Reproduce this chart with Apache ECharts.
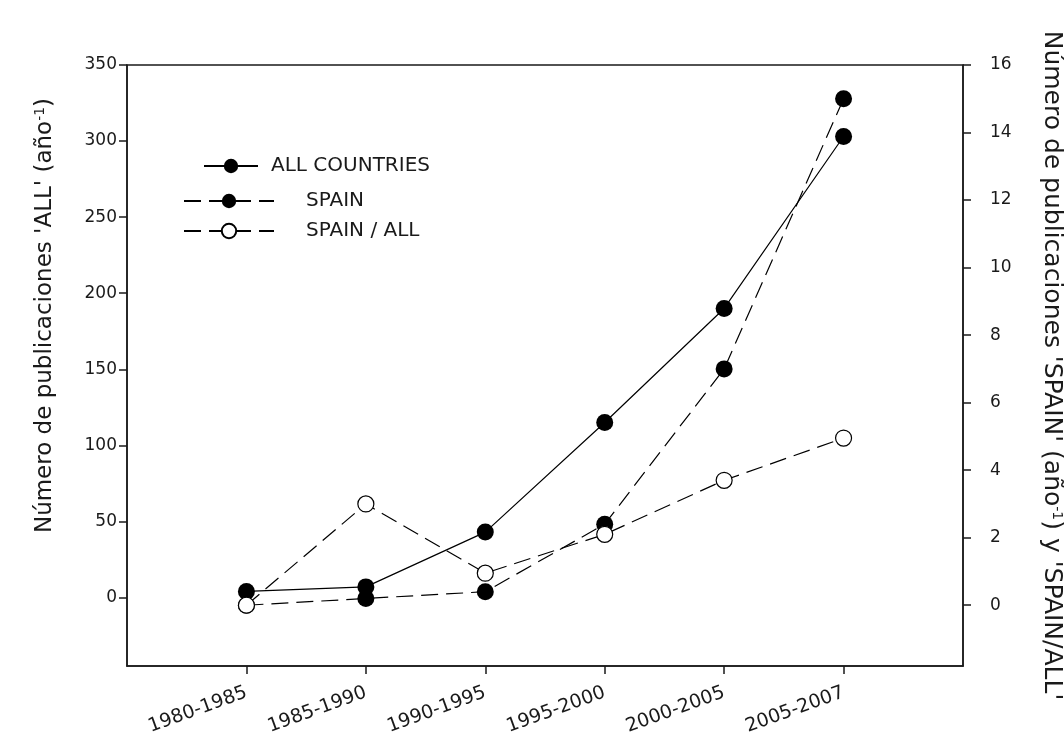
<!DOCTYPE html>
<html>
<head>
<meta charset="utf-8">
<script src="https://cdn.jsdelivr.net/npm/echarts@6/dist/echarts.min.js"></script>
<style>
  html, body { margin: 0; padding: 0; background: #fff; }
  #chart { width: 1064px; height: 735px; }
</style>
</head>
<body>
<div id="chart"></div>
<script>
// categories and values
var categories = ['1980-1985', '1985-1990', '1990-1995', '1995-2000', '2000-2005', '2005-2007'];
var allCountries = [4, 7, 43, 115, 190, 303];
var spain = [0, 0.2, 0.4, 2.4, 7, 15];
var spainRatio = [0, 3.0, 0.95, 2.1, 3.7, 4.95];
var leftTicks = [0, 50, 100, 150, 200, 250, 300, 350];
var rightTicks = [0, 2, 4, 6, 8, 10, 12, 14, 16];

// empty slot at each end so the points sit one step in from the frame
function pad(arr) { return [null].concat(arr, [null]); }
var xData = [''].concat(categories, ['']);

var font = 'DejaVu Sans';
var ink = '#1a1a1a';

var mychart = echarts.init(document.getElementById('chart'));

function legendItem(name, left, top, width, gap) {
    return {
        orient: 'vertical',
        left: left,
        top: top,
        itemWidth: width,
        itemHeight: 18,
        selectedMode: false,
        data: [name],
        textStyle: { fontFamily: font, fontSize: 20, color: ink, padding: [0, 0, 0, gap] }
    };
}

var supStyle = { fontFamily: font, fontSize: 14, color: ink, verticalAlign: 'top', padding: [0, 0, 10, 0] };

var option = {
    animation: false,
    backgroundColor: '#fff',
    grid: {
        left: 127, right: 101, top: 65, bottom: 69,
        containLabel: false,
        outerBoundsMode: 'none',
        show: true, borderColor: ink, borderWidth: 1.5, backgroundColor: 'transparent'
    },
    legend: [
        legendItem('ALL COUNTRIES', 198, 151, 54, 8),
        legendItem('SPAIN', 178, 186, 90, 27),
        legendItem('SPAIN / ALL', 178, 216, 90, 27)
    ],
    xAxis: {
        type: 'category',
        data: xData,
        boundaryGap: false,
        axisLine: { onZero: false, lineStyle: { color: ink, width: 1.5 } },
        axisTick: {
            length: 8,
            lineStyle: { color: ink, width: 1.5 },
            interval: function (i) { return i > 0 && i < xData.length - 1; }
        },
        axisLabel: {
            interval: 0,
            rotate: 20,
            margin: 26,
            fontFamily: font,
            fontSize: 19,
            color: ink
        },
        splitLine: { show: false }
    },
    yAxis: [
        {
            type: 'value',
            position: 'left',
            min: -45,
            max: 350,
            name: "Número de publicaciones 'ALL' (año{sup|-1})",
            nameLocation: 'middle',
            nameGap: 70,
            nameTextStyle: {
                fontFamily: font,
                fontSize: 23,
                color: ink,
                padding: [0, 0, 0, 100],
                rich: { sup: supStyle }
            },
            axisLine: { show: true, lineStyle: { color: ink, width: 1.5 } },
            axisTick: { show: true, length: 8, customValues: leftTicks, lineStyle: { color: ink, width: 1.5 } },
            axisLabel: { customValues: leftTicks, margin: 10, fontFamily: font, fontSize: 17, color: ink },
            splitLine: { show: false }
        },
        {
            type: 'value',
            position: 'right',
            min: -1.8,
            max: 16,
            name: "Número de publicaciones 'SPAIN' (año{sup|-1}) y 'SPAIN/ALL'",
            nameLocation: 'middle',
            nameGap: 76,
            nameRotate: -90,
            nameTextStyle: {
                fontFamily: font,
                fontSize: 25,
                color: ink,
                rich: { sup: supStyle }
            },
            axisLine: { show: true, lineStyle: { color: ink, width: 1.5 } },
            axisTick: { show: true, length: 8, customValues: rightTicks, lineStyle: { color: ink, width: 1.5 } },
            axisLabel: { customValues: rightTicks, margin: 27, fontFamily: font, fontSize: 17, color: ink },
            splitLine: { show: false }
        }
    ],
    series: [
        {
            name: 'ALL COUNTRIES',
            type: 'line',
            yAxisIndex: 0,
            data: pad(allCountries),
            symbol: 'circle',
            symbolSize: 17,
            itemStyle: { color: '#000', borderColor: '#000', borderWidth: 0 },
            lineStyle: { color: '#000', width: 1.2, type: 'solid' },
            z: 3
        },
        {
            name: 'SPAIN',
            type: 'line',
            yAxisIndex: 1,
            data: pad(spain),
            symbol: 'circle',
            symbolSize: 17,
            itemStyle: { color: '#000', borderColor: '#000', borderWidth: 0 },
            lineStyle: { color: '#000', width: 1.2, type: [17, 8] },
            z: 4
        },
        {
            name: 'SPAIN / ALL',
            type: 'line',
            yAxisIndex: 1,
            data: pad(spainRatio),
            symbol: 'circle',
            symbolSize: 16,
            showAllSymbol: true,
            itemStyle: { color: '#fff', borderColor: '#000', borderWidth: 1.2 },
            lineStyle: { color: '#000', width: 1.2, type: [17, 8] },
            z: 5
        }
    ]
};

mychart.setOption(option);
</script>
</body>
</html>
